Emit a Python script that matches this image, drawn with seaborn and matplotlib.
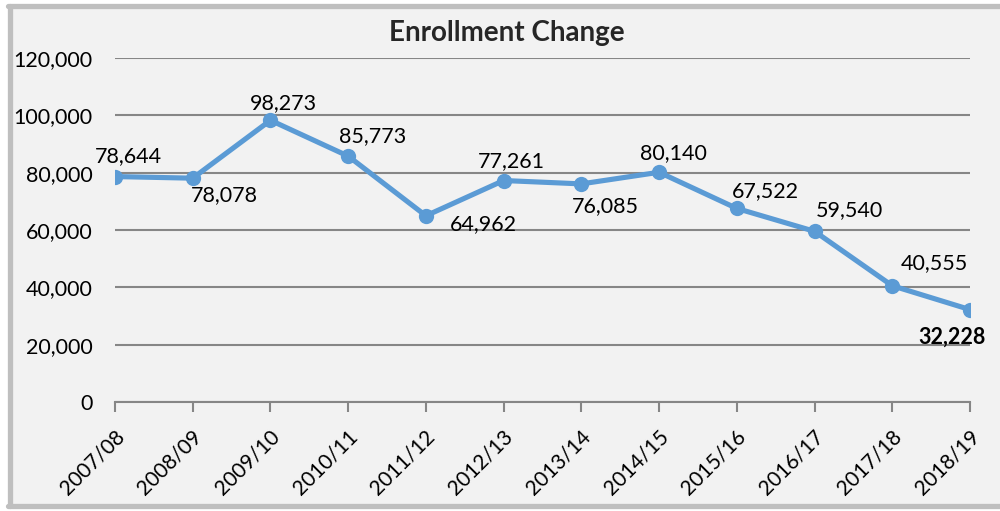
import matplotlib.pyplot as plt
import matplotlib.ticker as ticker
import matplotlib.transforms as mtransforms
import pandas as pd
import seaborn as sns
from matplotlib.lines import Line2D
from matplotlib.patches import Rectangle

years = ["2007/08", "2008/09", "2009/10", "2010/11", "2011/12", "2012/13",
         "2013/14", "2014/15", "2015/16", "2016/17", "2017/18", "2018/19"]
enrollment = [78644, 78078, 98273, 85773, 64962, 77261,
              76085, 80140, 67522, 59540, 40555, 32228]

# label offsets in pixels (dx, dy), hand placed like the original
label_offsets = [(13, 20), (32, -17), (13, 17), (24, 20), (57, -8), (8, 19),
                 (24, -22), (14, 19), (29, 17), (35, 21), (42, 23), (-18, -28)]

sns.set_theme(style="white")
plt.rcParams["font.family"] = ["Lato", "DejaVu Sans"]

df = pd.DataFrame({"year": years, "enrollment": enrollment})

fig = plt.figure(figsize=(10, 5.11), dpi=100, facecolor="white")
# grey panel with a frame on left, top and bottom
fig.add_artist(Rectangle((0.0095, 0.0095), 1.0, 0.9785, transform=fig.transFigure,
                         facecolor="#f2f2f2", edgecolor="none", zorder=-10))
frame = dict(transform=fig.transFigure, color="#bfbfbf", linewidth=3.8, zorder=-9)
fig.add_artist(Line2D([0.0095, 0.0095], [0.0095, 0.988], **frame))
fig.add_artist(Line2D([0.0075, 1.0], [0.988, 0.988], **frame))
fig.add_artist(Line2D([0.0075, 1.0], [0.0095, 0.0095], **frame))

ax = fig.add_axes([0.115, 0.2133, 0.855, 0.6732])
ax.set_facecolor("none")

sns.lineplot(data=df, x="year", y="enrollment", ax=ax, sort=False,
             color="#5b9bd5", linewidth=3.7, marker="o", markersize=11,
             markeredgewidth=0, zorder=3)

ax.set_xlim(0, len(years) - 1)
ax.set_ylim(0, 120000)
ax.yaxis.set_major_locator(ticker.MultipleLocator(20000))
ax.yaxis.set_major_formatter(ticker.FuncFormatter(lambda v, p: f"{int(v):,}"))
ax.grid(axis="y", color="#868686", linewidth=1.5)
ax.set_axisbelow(True)

for s in ["top", "right", "left"]:
    ax.spines[s].set_visible(False)
ax.spines["bottom"].set_color("#868686")
ax.spines["bottom"].set_linewidth(1.5)

ax.tick_params(axis="y", left=False, length=0, pad=16, labelsize=15.5,
               labelcolor="black")
ax.tick_params(axis="x", bottom=True, length=7, width=1.5, color="#868686",
               direction="out", pad=4, labelsize=15, labelcolor="black")
plt.setp(ax.get_xticklabels(), rotation=45, ha="right", va="center",
         rotation_mode="anchor")
shift = mtransforms.ScaledTranslation(6 / 100, -16 / 100, fig.dpi_scale_trans)
for lab in ax.get_xticklabels():
    lab.set_transform(lab.get_transform() + shift)

ax.set_xlabel("")
ax.set_ylabel("")

for i, (v, off) in enumerate(zip(enrollment, label_offsets)):
    bold = i == len(enrollment) - 1
    ax.annotate(f"{v:,}", (i, v), xytext=off, textcoords="offset pixels",
                ha="center", va="center", fontsize=15.5,
                fontweight="bold" if bold else "normal", color="black")

fig.text(0.507, 0.935, "Enrollment Change", ha="center", va="center",
         fontsize=20, fontweight="bold")

fig.savefig("out.png", dpi=100, facecolor="white")
